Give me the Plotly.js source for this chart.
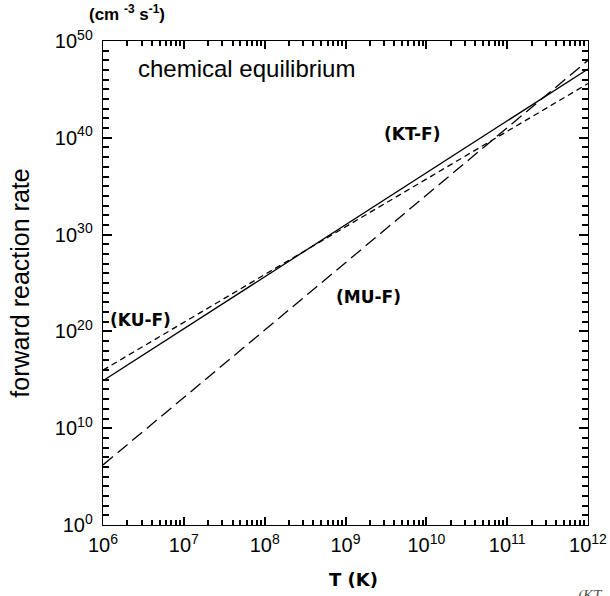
<!DOCTYPE html>
<html>
<head>
<meta charset="utf-8">
<script src="https://cdn.plot.ly/plotly-3.0.1.min.js"></script>
<style>html,body{margin:0;padding:0;background:#fff;}#chart{width:610px;height:596px;}</style>
</head>
<body>
<div id="chart"></div>
<script>
// Temperature (K)
const temperature = [1e6, 1e7, 1e8, 1e9, 1e10, 1e11, 1e12];
// forward reaction rates (cm^-3 s^-1)
const rateKTF = [8e14, 1.9e20, 4.4e25, 1e31, 2.5e36, 5e41, 1.3e47];
const rateKUF = [1e16, 8.5e20, 7.2e25, 6.3e30, 5e35, 4.5e40, 4e45];
const rateMUF = [1.6e6, 1.5e13, 1.4e20, 1.3e27, 1.3e34, 1.1e41, 1e48];
const seriesNames = ["(KT-F)", "(KU-F)", "(MU-F)"];

// tick labels
const xTickVals = [1e6, 1e7, 1e8, 1e9, 1e10, 1e11, 1e12];
const xTickText = ["10<sup>6</sup>", "10<sup>7</sup>", "10<sup>8</sup>", "10<sup>9</sup>",
                   "10<sup>10</sup>", "10<sup>11</sup>", "10<sup>12</sup>"];
const yTickVals = [1e0, 1e10, 1e20, 1e30, 1e40, 1e50];
const yTickText = ["10<sup>0</sup>", "10<sup>10</sup>", "10<sup>20</sup>", "10<sup>30</sup>",
                   "10<sup>40</sup>", "10<sup>50</sup>"];

// minor tick positions
const xMinor = [];
for (let d = 6; d < 12; d++) for (let k = 2; k <= 9; k++) xMinor.push(k * Math.pow(10, d));
const yMinor = [];
for (let n = 1; n < 50; n++) if (n % 10 !== 0) yMinor.push(Math.pow(10, n));

const FONT = "Liberation Sans, Arial, Helvetica, sans-serif";
const BOLD = "DejaVu Sans, Liberation Sans, Arial, sans-serif";

const traces = [
  {x: temperature, y: rateKTF, name: seriesNames[0], mode: "lines",
   line: {color: "#000", width: 1.3, dash: "solid"}},
  {x: temperature, y: rateKUF, name: seriesNames[1], mode: "lines",
   line: {color: "#000", width: 1.3, dash: "6px,4px"}},
  {x: temperature, y: rateMUF, name: seriesNames[2], mode: "lines",
   line: {color: "#000", width: 1.3, dash: "13px,6px"}},
  {x: [temperature[0]], y: [1], xaxis: "x2", yaxis: "y2", mode: "markers",
   marker: {opacity: 0}, hoverinfo: "skip", showlegend: false}
];

const baseAxis = {
  type: "log", showgrid: false, zeroline: false,
  showline: true, linecolor: "#000", linewidth: 1.3, mirror: "allticks",
  ticks: "inside", tickwidth: 2, tickcolor: "#000"
};

const layout = {
  width: 610, height: 596,
  margin: {l: 103, r: 22, t: 41, b: 71},
  paper_bgcolor: "#fff", plot_bgcolor: "#fff",
  showlegend: false,
  font: {family: FONT, color: "#000", size: 20},
  xaxis: Object.assign({}, baseAxis, {
    range: [6, 12], tickmode: "array", tickvals: xTickVals, ticktext: xTickText, ticklen: 8,
    tickfont: {family: FONT, size: 20}, ticklabelstandoff: 2
  }),
  yaxis: Object.assign({}, baseAxis, {
    range: [0, 50], tickmode: "array", tickvals: yTickVals, ticktext: yTickText, ticklen: 9,
    tickfont: {family: FONT, size: 20}, ticklabelstandoff: 5,
    title: {text: "forward reaction rate", font: {family: FONT, size: 25}, standoff: 18}
  }),
  xaxis2: Object.assign({}, baseAxis, {
    range: [6, 12], overlaying: "x", anchor: "y2", side: "bottom",
    tickmode: "array", tickvals: xMinor, ticklen: 5, showticklabels: false
  }),
  yaxis2: Object.assign({}, baseAxis, {
    range: [0, 50], overlaying: "y", anchor: "x2", side: "left",
    tickmode: "array", tickvals: yMinor, ticklen: 6, showticklabels: false
  }),
  annotations: [
    {xref: "paper", yref: "paper", x: 0.068, y: 0.944, xanchor: "left", yanchor: "middle",
     text: "chemical equilibrium", showarrow: false, font: {family: FONT, size: 24}},
    {xref: "x", yref: "y", x: 9.82, y: 40.4, xanchor: "center", yanchor: "middle",
     text: "<b>" + seriesNames[0] + "</b>", showarrow: false, font: {family: BOLD, size: 17}},
    {xref: "x", yref: "y", x: 6.46, y: 21.2, xanchor: "center", yanchor: "middle",
     text: "<b>" + seriesNames[1] + "</b>", showarrow: false, font: {family: BOLD, size: 17}},
    {xref: "x", yref: "y", x: 9.28, y: 23.55, xanchor: "center", yanchor: "middle",
     text: "<b>" + seriesNames[2] + "</b>", showarrow: false, font: {family: BOLD, size: 17}},
    {xref: "paper", yref: "paper", x: 0.5175, y: -0.1136, xanchor: "center", yanchor: "middle",
     text: "<b>T (K)</b>", showarrow: false, font: {family: BOLD, size: 18}},
    {xref: "paper", yref: "paper", x: 0.05, y: 1.0, yshift: 28, xanchor: "center", yanchor: "middle",
     text: "<b>(cm <sup>-3</sup> s<sup>-1</sup>)</b>", showarrow: false, font: {family: FONT, size: 17}},
    {xref: "paper", yref: "paper", x: 0.975, y: 0, yshift: -60, xanchor: "left", yanchor: "top",
     text: "<i>(KT</i>", showarrow: false, font: {family: "Liberation Serif, serif", size: 15, color: "#555"}}
  ]
};

Plotly.newPlot("chart", traces, layout, {displayModeBar: false, staticPlot: true});
</script>
</body>
</html>
